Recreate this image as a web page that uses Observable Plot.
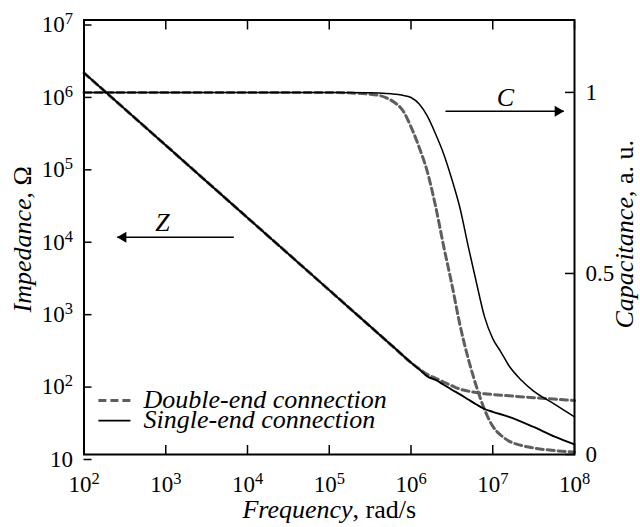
<!DOCTYPE html>
<html><head><meta charset="utf-8">
<script src="https://cdn.jsdelivr.net/npm/d3@7"></script>
<script src="https://cdn.jsdelivr.net/npm/@observablehq/plot@0.6"></script>
<style>body{margin:0;background:#fff}</style>
</head><body><div id="chart"></div>
<script>
// ---- data ----
const freqZ = [1e2, 1e3, 1e4, 1e5, 3.16e5, 6.31e5, 1e6, 1.26e6, 1.58e6, 2e6, 2.51e6, 3.16e6, 3.98e6, 5.01e6, 6.31e6, 7.94e6, 1e7, 1.58e7, 3.16e7, 5.62e7, 1e8];
const zSingle = [1.86e6, 1.86e5, 1.86e4, 1862, 589, 295, 186, 150, 120, 107, 92, 78.5, 67.6, 57.5, 49, 42.5, 38.9, 33.1, 24, 17.8, 13.8];
const zDouble = [1.86e6, 1.86e5, 1.86e4, 1862, 589, 295, 186, 152, 128, 113, 100, 89, 80, 75, 71.6, 69, 67.3, 64.6, 61, 58.2, 55.6];

const freqC = [1e2, 1e5, 3.16e5, 5.01e5, 6.31e5, 7.94e5, 1e6, 1.26e6, 1.58e6, 2e6, 2.51e6, 3.16e6, 3.98e6, 5.01e6, 6.31e6, 7.94e6, 1e7, 1.26e7, 1.58e7, 2.24e7, 3.16e7, 5.62e7, 1e8];
const cSingle = [1, 1, 0.999, 0.997, 0.995, 0.992, 0.986, 0.968, 0.935, 0.885, 0.83, 0.76, 0.68, 0.575, 0.475, 0.38, 0.32, 0.283, 0.245, 0.205, 0.175, 0.14, 0.104];
const cDouble = [1, 1, 0.995, 0.985, 0.972, 0.95, 0.905, 0.848, 0.782, 0.685, 0.575, 0.47, 0.357, 0.265, 0.188, 0.124, 0.078, 0.053, 0.037, 0.025, 0.018, 0.011, 0.007];

const xTicks = [1e2, 1e3, 1e4, 1e5, 1e6, 1e7, 1e8];
const yTicks = [1e1, 1e2, 1e3, 1e4, 1e5, 1e6, 1e7];
const cTicks = [0, 0.5, 1];
const cMax = 1.2;

const seriesLabels = ["Double-end connection", "Single-end connection"];
const xLabel = "Frequency, rad/s";
const yLabel = "Impedance, Ω";
const y2Label = "Capacitance, a. u.";

// annotation arrows (data units)
const zArrow = [{x1: 6.8e3, x2: 255, y: 1e4, label: "Z", lx: 912}];
const cArrow = [{x1: 2.64e6, x2: 7.4e7, c: 0.948, label: "C", lx: 1.43e7}];
// legend placement (data units)
const legendX = [150, 370];
const legendTextX = 535;
const legendY = [55.6, 29.4];

// ---- build ----
const cToY = c => Math.pow(10, 1 + 6 * c / cMax);
const zS = freqZ.map((f, i) => ({f, v: zSingle[i]}));
const zD = freqZ.map((f, i) => ({f, v: zDouble[i]}));
const cS = freqC.map((f, i) => ({f, v: cToY(cSingle[i])}));
const cD = freqC.map((f, i) => ({f, v: cToY(cDouble[i])}));
const legend = seriesLabels.map((label, i) => ({label, x1: legendX[0], x2: legendX[1], y: legendY[i]}));

const expFmt = v => { const e = Math.round(Math.log10(v)); return e === 1 ? "10" : "10^" + e; };

const dashedGray = {stroke: "#5e5e5e", strokeWidth: 3, strokeDasharray: "7,4"};
const ff = "'Liberation Serif', 'Times New Roman', serif";

const svg = Plot.plot({
  width: 640, height: 527,
  marginLeft: 83.5, marginRight: 66, marginTop: 19.5, marginBottom: 73,
  x: {type: "log", domain: [1e2, 1e8]},
  y: {type: "log", domain: [10, 1e7]},
  style: {fontFamily: ff, fontSize: "23px", color: "black", background: "white"},
  marks: [
    Plot.line(cD, {x: "f", y: "v", ...dashedGray, curve: "monotone-x"}),
    Plot.line(zD, {x: "f", y: "v", ...dashedGray, curve: "monotone-x"}),
    Plot.line(cS, {x: "f", y: "v", stroke: "black", strokeWidth: 1.5, curve: "monotone-x"}),
    Plot.line(zS, {x: "f", y: "v", stroke: "black", strokeWidth: 1.9, curve: "monotone-x"}),
    Plot.frame({stroke: "black", strokeWidth: 2}),
    Plot.axisX(xTicks, {anchor: "bottom", tickSize: -9, tickPadding: 30, tickFormat: expFmt, label: null, strokeWidth: 1.5}),
    Plot.axisX(xTicks, {anchor: "top", tickSize: -9, tickFormat: () => "", label: null, strokeWidth: 1.5}),
    Plot.axisY(yTicks, {anchor: "left", tickSize: -8, tickPadding: 19, tickFormat: expFmt, label: null, strokeWidth: 1.5, dy: 5}),
    Plot.axisY(cTicks.map(cToY), {anchor: "right", tickSize: -10, tickFormat: () => "", label: null, strokeWidth: 1.5}),
    Plot.text(cTicks, {y: c => cToY(c), text: c => String(c), frameAnchor: "right", textAnchor: "start", lineAnchor: "middle", dx: 11, fontSize: 23}),
    // arrows
    Plot.link(zArrow, {x1: "x1", x2: "x2", y1: "y", y2: "y", stroke: "black", strokeWidth: 1.6}),
    Plot.dot(zArrow, {x: "x2", y: "y", symbol: "triangle", r: 4, fill: "black", stroke: null, rotate: -90, dx: 6}),
    Plot.text(zArrow, {x: "lx", y: "y", text: "label", fontStyle: "italic", fontSize: 26, lineAnchor: "bottom", dy: -6}),
    Plot.link(cArrow, {x1: "x1", x2: "x2", y1: d => cToY(d.c), y2: d => cToY(d.c), stroke: "black", strokeWidth: 1.6}),
    Plot.dot(cArrow, {x: "x2", y: d => cToY(d.c), symbol: "triangle", r: 4, fill: "black", stroke: null, rotate: 90, dx: -6}),
    Plot.text(cArrow, {x: "lx", y: d => cToY(d.c), text: "label", fontStyle: "italic", fontSize: 26, lineAnchor: "bottom", dy: -5}),
    // legend
    Plot.link([legend[0]], {x1: "x1", x2: "x2", y1: "y", y2: "y", stroke: "#5e5e5e", strokeWidth: 3, strokeDasharray: "8,4"}),
    Plot.link([legend[1]], {x1: "x1", x2: "x2", y1: "y", y2: "y", stroke: "black", strokeWidth: 1.6}),
    Plot.text(legend, {x: () => legendTextX, y: "y", text: "label", textAnchor: "start", lineAnchor: "middle", fontStyle: "italic", fontSize: 26, dy: -1}),
    // axis titles
    Plot.text([xLabel], {frameAnchor: "bottom", text: d => d, fontSize: 26, textAnchor: "middle", lineAnchor: "bottom", dy: 63}),
    Plot.text([yLabel], {frameAnchor: "left", text: d => d, fontSize: 26, textAnchor: "middle", lineAnchor: "middle", rotate: -90, dx: -61, dy: 2}),
    Plot.text([y2Label], {frameAnchor: "right", text: d => d, fontSize: 26, textAnchor: "middle", lineAnchor: "middle", rotate: -90, dx: 50, dy: -3})
  ]
});

// typographic post-processing: superscripts and italic variable names
const NS = "http://www.w3.org/2000/svg";
const italicFirst = {[xLabel]: "Frequency", [yLabel]: "Impedance", [y2Label]: "Capacitance"};
svg.querySelectorAll("text").forEach(t => {
  const targets = t.querySelector("tspan") ? t.querySelectorAll("tspan") : [t];
  targets.forEach(el => {
    const s = el.textContent;
    const m = /^10\^(\d)$/.exec(s);
    if (m) {
      el.textContent = "10";
      const sup = document.createElementNS(NS, "tspan");
      sup.setAttribute("dy", "-8");
      sup.setAttribute("font-size", "16.5px");
      sup.textContent = m[1];
      el.appendChild(sup);
    } else if (italicFirst[s]) {
      const w = italicFirst[s];
      el.textContent = "";
      const it = document.createElementNS(NS, "tspan");
      it.setAttribute("font-style", "italic");
      it.textContent = w;
      el.appendChild(it);
      el.appendChild(document.createTextNode(s.slice(w.length)));
    }
  });
});
document.getElementById("chart").appendChild(svg);
</script>
</body></html>
